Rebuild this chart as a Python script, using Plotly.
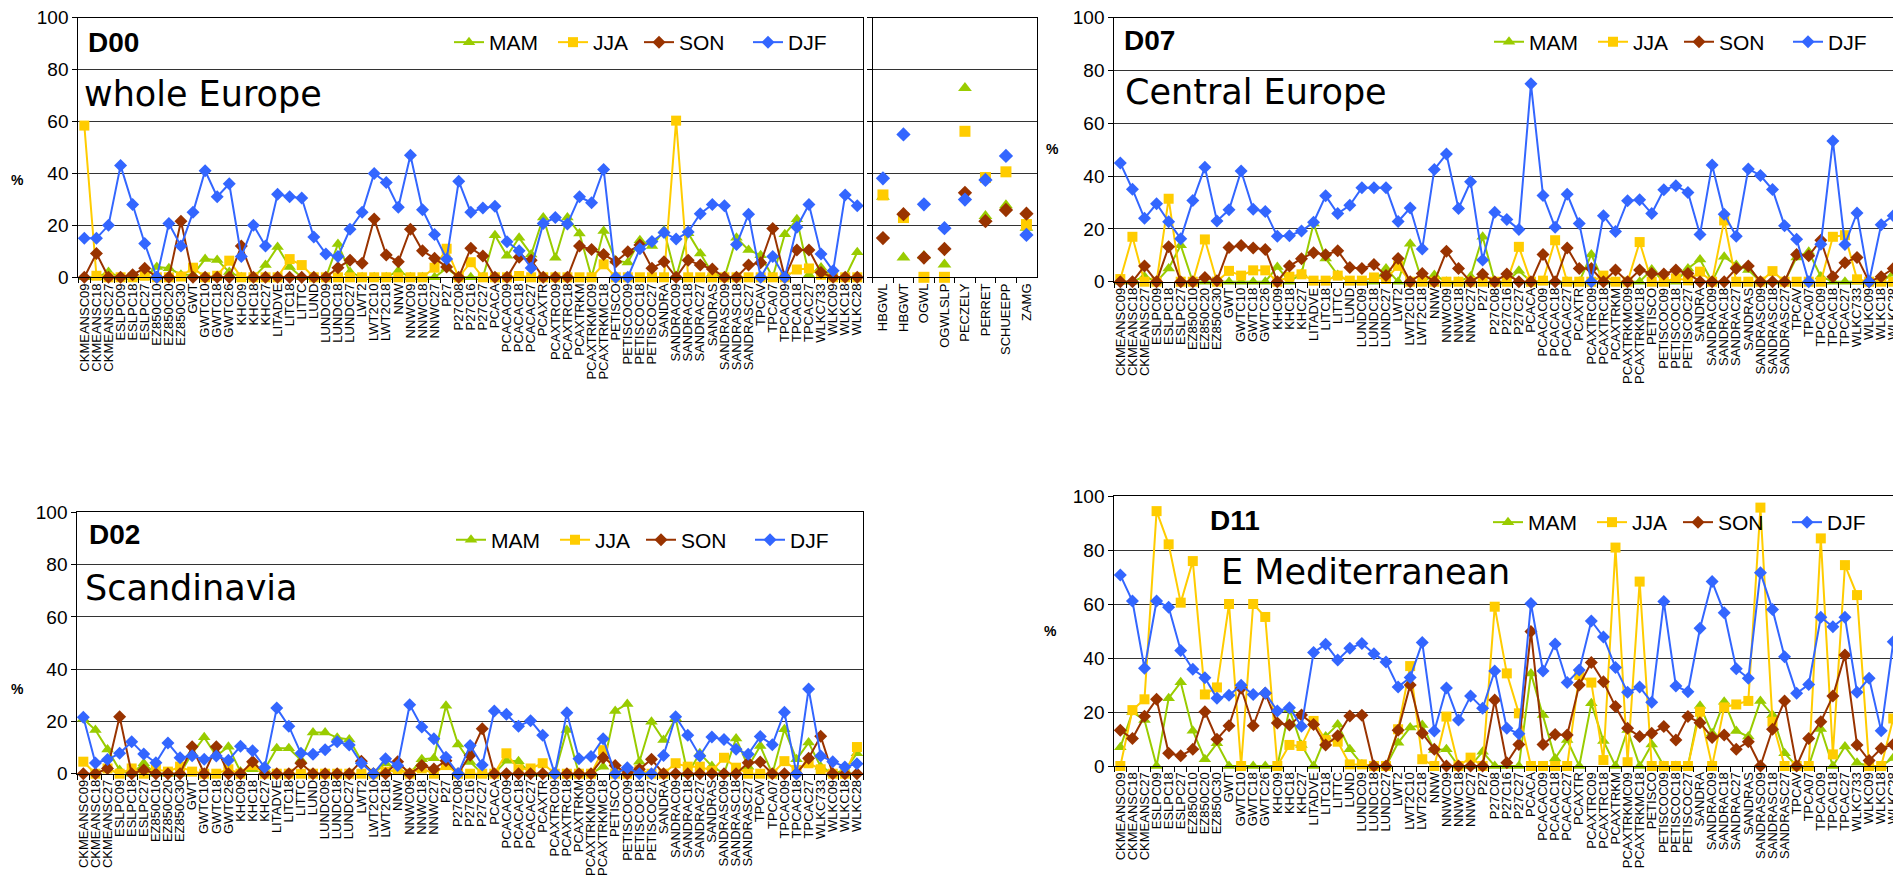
import plotly.graph_objects as go

W, H = 1901, 887
OFF = 8  # default page margin of the html body

categories = ["CKMEANSC09", "CKMEANSC18", "CKMEANSC27", "ESLPC09", "ESLPC18", "ESLPC27",
              "EZ850C10", "EZ850C20", "EZ850C30", "GWT", "GWTC10", "GWTC18", "GWTC26",
              "KHC09", "KHC18", "KHC27", "LITADVE", "LITC18", "LITTC", "LUND", "LUNDC09",
              "LUNDC18", "LUNDC27", "LWT2", "LWT2C10", "LWT2C18", "NNW", "NNWC09", "NNWC18",
              "NNWC27", "P27", "P27C08", "P27C16", "P27C27", "PCACA", "PCACAC09", "PCACAC18",
              "PCACAC27", "PCAXTR", "PCAXTRC09", "PCAXTRC18", "PCAXTRKM", "PCAXTRKMC09",
              "PCAXTRKMC18", "PETISCO", "PETISCOC09", "PETISCOC18", "PETISCOC27", "SANDRA",
              "SANDRAC09", "SANDRAC18", "SANDRAC27", "SANDRAS", "SANDRASC09", "SANDRASC18",
              "SANDRASC27", "TPCAV", "TPCA07", "TPCAC09", "TPCAC18", "TPCAC27", "WLKC733",
              "WLKC09", "WLKC18", "WLKC28"]

extra_categories = ["HBGWL", "HBGWT", "OGWL", "OGWLSLP", "PECZELY", "PERRET", "SCHUEEPP", "ZAMG"]

seasons = ["MAM", "JJA", "SON", "DJF"]

# ---------------- D00 whole Europe ----------------
d00_mam = [0, 0, 2, 0, 0, 0, 4, 3.5, 1, 1, 7, 6.7, 2, 0, 0, 4.7, 11.7, 4, 0, 0,
           0, 12.8, 2, 0, 0, 0, 2.5, 0, 0, 0, 3.5, 0, 0, 0, 16.2, 8.3, 15.2, 8.8, 23, 7.5,
           23, 16.9, 0, 17.8, 6.4, 5.7, 14.3, 12, 18, 0, 17, 9.2, 1.5, 0, 15.2, 10.5, 8.5, 0,
           16.6, 22.3, 1, 3.8, 0, 0, 9.6]
d00_jja = [58.4, 0.6, 0, 0, 0, 0.6, 0, 0, 0.3, 3.7, 0, 0.6, 6.4, 0, 0, 0, 0, 7, 4.7, 0,
           0, 0, 0, 0, 0, 0, 0, 0, 0, 3.7, 11, 0, 5.8, 0, 0, 0, 0.5, 0, 0, 0,
           0, 0, 0, 5, 0, 0, 0, 0, 0, 60.3, 0, 0, 0, 0, 0, 0, 0, 0, 0, 3, 3.4, 1, 0, 0, 0]
d00_son = [0, 9.2, 0, 0, 1, 3.5, 0, 0, 21.6, 0, 0, 0, 0, 12, 0, 0, 0, 0, 0, 0,
           0, 3.7, 6.6, 5.4, 22.4, 8.6, 6, 18.5, 10.2, 7.3, 4, 0, 11.2, 8.2, 0, 0, 7.7, 6.6, 0, 0,
           0, 12, 10.7, 8.8, 6, 9.8, 12.4, 3.5, 6, 0, 6.6, 4.7, 3.2, 0, 0, 4.7, 5.6, 18.8, 0, 10.5,
           10.5, 1.8, 0, 0, 0]
d00_djf = [15, 15, 20, 43, 28, 13, 0, 20.7, 12, 25, 41, 31, 36, 8, 20, 12, 32, 31, 30.5, 15.5,
           9, 8, 18.5, 25, 40, 36.5, 27, 47, 26, 16.5, 7, 37, 25, 26.7, 27.3, 13.7, 10.2, 3.6, 20.7, 23,
           20.5, 31, 28.7, 41.5, 0, 0, 11, 13.8, 17.2, 14.7, 17.4, 24.5, 28, 27.5, 12.6, 24.3, 0, 8, 0, 19.3,
           28, 9, 2.5, 31.7, 27.5]

# D00 additional classifications (markers only)
ext_mam = [31, 7.6, 8.2, 4.9, 72.9, 23.6, 27.7, 19.1]
ext_jja = [31.7, 23, 0, 0, 56.2, 38.4, 40.6, 20.3]
ext_son = [15.1, 24.3, 7.6, 10.9, 32.5, 21.6, 25.9, 24.5]
ext_djf = [38.1, 55, 28.1, 18.9, 29.9, 37.5, 46.7, 16.3]

# ---------------- D07 Central Europe ----------------
d07_mam = [0, 0, 2, 0, 5, 13.8, 0, 0, 0, 0, 0, 0, 0, 5.6, 0, 3, 22, 8.8, 2.5, 0,
           0, 0, 5, 0, 14.4, 0, 2.5, 0, 0, 2, 17, 0, 0, 4.1, 0, 0, 0, 0, 0, 10.3,
           0, 0, 0, 0, 4.6, 0, 0, 5, 8.4, 0, 9.4, 6.3, 4.4, 0, 0, 0, 9.2, 11.3, 2, 0,
           0, 0, 0, 0, 3]
d07_jja = [1, 17, 0, 0, 31.4, 0, 0, 16, 0, 4.1, 2.3, 4.3, 4.3, 0, 1.9, 2.8, 0.4, 0.4, 2.3, 0.4,
           0.4, 1.6, 1, 6, 0, 0, 0, 0, 0, 0, 0, 0, 0, 13.2, 0, 0.4, 15.7, 0, 0, 0,
           2.3, 0, 0, 15, 0, 0, 1.3, 0.5, 3.8, 0, 23.2, 0, 0, 0, 4, 0, 0, 0, 0, 17,
           17.6, 0.9, 0, 0, 0]
d07_son = [0, 0, 5.9, 0, 13.2, 0, 0, 1.6, 0.4, 12.9, 13.7, 12.8, 12.2, 0, 5.9, 8.7, 11, 10.2, 11.7, 5.4,
           5, 6.5, 2.3, 8.8, 0, 3.1, 0, 11.5, 5, 0, 2.8, 0, 2.9, 0, 0, 10.3, 0, 12.8, 5, 5,
           0, 4.4, 0, 4.4, 3.1, 2.9, 4.4, 3.1, 0, 0, 0, 5, 5.9, 0, 0, 0, 10.3, 9.8, 15.7, 1.9,
           7.2, 9.2, 0, 1.9, 5]
d07_djf = [44.9, 35, 24, 29.5, 22.7, 16.3, 30.7, 43.3, 23, 27.2, 41.9, 27.4, 26.6, 17.2, 17.4, 19.2, 22.5, 32.5, 25.8, 28.9,
           35.6, 35.6, 35.6, 22.8, 27.9, 12.4, 42.5, 48.3, 27.7, 37.8, 8.2, 26.3, 23.5, 19.8, 74.9, 32.6, 20.6, 33.1, 22, 0,
           25, 19, 30.6, 31, 25.8, 34.8, 36.3, 33.8, 17.9, 44.2, 25.5, 17.2, 42.7, 40.2, 34.9, 21.2, 16.1, 0, 14.2, 53.3,
           14.1, 26, 0, 21.6, 25]

# ---------------- D02 Scandinavia ----------------
d02_mam = [21, 16.7, 9.3, 1.4, 0, 4, 0, 0, 0, 7.8, 13.9, 6.8, 10.3, 0.8, 1.7, 1.7, 9.7, 9.7, 5.2, 15.8,
           15.8, 13.8, 13.1, 5, 0, 4, 1.7, 0, 5.5, 5.9, 26, 11.2, 4.5, 0, 0, 5, 4.8, 0, 0, 0,
           16.7, 0, 0, 2.7, 24, 26.7, 4.6, 19.9, 12.9, 21.2, 0, 7.8, 2.9, 0, 13.5, 2.7, 10.6, 0, 17, 5.5,
           11.9, 2.7, 0, 1.4, 7.8]
d02_jja = [4.6, 0, 2, 0, 2, 0, 1.7, 0.8, 2.7, 0.8, 0, 0, 1.7, 0, 3.3, 0, 0, 0, 0, 0,
           0, 0, 0, 0, 0, 0.8, 1.4, 0, 2, 0, 3.3, 0, 0, 0, 0, 7.8, 1.7, 2, 4, 0,
           0, 0, 0, 9, 0, 0, 1.4, 0, 0, 4, 2.7, 2.7, 1.1, 6.1, 2.3, 0, 0, 0, 4.8, 1.4,
           4, 1.7, 0, 0, 10.2]
d02_son = [0, 0, 2, 21.8, 0, 1.4, 0, 0, 0, 10.3, 0, 10.3, 0, 0, 4.6, 0, 0, 0, 4, 0,
           0, 0, 0, 4.8, 0, 0, 4.6, 0, 3.1, 1.8, 5, 0, 7.1, 17.2, 0, 0, 0, 0, 0, 0,
           0, 0, 0, 6.1, 3.1, 0, 1.7, 5.5, 0, 0, 0, 0, 0, 0, 0, 4.2, 4.5, 0, 0, 0,
           5.9, 14.3, 0, 0, 0]
d02_djf = [21.6, 4.1, 5.4, 7.8, 12.2, 7.5, 4.2, 11.7, 6.1, 6.9, 5.5, 6.8, 5.1, 10.5, 8.8, 2.4, 25.1, 18.2, 7.8, 7.4,
           9.2, 12.2, 11, 4, 0, 5.7, 3.1, 26.4, 17.9, 13.4, 6.3, 0, 10.8, 3.3, 24, 22.7, 18.2, 20.3, 14.7, 0,
           23.3, 5.7, 6.6, 13.4, 0, 2.3, 0, 0, 7, 21.8, 14.7, 6.8, 14, 13.1, 9.4, 7.4, 14.2, 11.1, 23.5, 0,
           32.4, 6.8, 4.6, 2.6, 3.8]

# ---------------- D11 E Mediterranean ----------------
d11_mam = [6.9, 20, 17, 0, 25.1, 31, 13.1, 2.5, 8.4, 0, 0, 0, 0, 0, 21, 7.8, 0, 10.9, 15.4, 6.2,
           0.6, 0, 0, 8.6, 14.3, 15.2, 5.9, 6.2, 0, 0, 5.3, 0, 0, 0, 34.3, 18.9, 2.8, 9.6, 0, 23.2,
           9.3, 0, 13.3, 0, 8, 0, 0, 0, 22.3, 12.1, 23.8, 13, 10.9, 24.1, 18.9, 4.7, 0, 0, 13.7, 0,
           7.2, 1.2, 0, 0, 3]
d11_jja = [0, 20.7, 24.7, 94.4, 82.1, 60.5, 75.9, 26.5, 29.1, 60, 0, 60, 55.2, 0, 7.8, 7.4, 16.7, 9.6, 9, 0.6,
           0.6, 0, 0, 13.6, 37, 2.5, 0, 18.3, 0, 3.1, 0, 59, 34.3, 19.5, 0, 0, 0, 0, 33.7, 30.9,
           2.2, 80.9, 1.4, 68.3, 0, 0, 0, 0, 20.1, 0, 21.7, 22.8, 24.1, 95.7, 16.4, 0, 0, 0, 84.3, 4.3,
           74.4, 63.3, 0, 0, 17.6]
d11_son = [13.2, 10.2, 18.4, 24.7, 4.7, 3.8, 6.2, 20.1, 9.9, 14.9, 28.8, 14.9, 26.9, 15.9, 15.2, 18.9, 15.4, 7.8, 11.2, 18.5,
           18.8, 0, 0, 13.2, 30, 12.1, 6.2, 0, 0, 0, 0, 24.4, 1.2, 8, 49.8, 8, 11.7, 11.5, 30, 38.3,
           31.2, 22, 14, 10.9, 12.1, 14.6, 9.6, 18.3, 16, 10.6, 11.5, 6.2, 9, 0, 13.6, 24.1, 0, 10.2, 16.4, 25.9,
           41.1, 7.8, 2, 6.5, 8]
d11_djf = [70.7, 61.1, 36.2, 61.1, 58.8, 42.8, 35.8, 32.7, 25.1, 26.2, 29.9, 26.5, 27, 20.4, 21.6, 14.7, 42, 45.1, 39.3, 43.6,
           45.4, 41.6, 38.5, 29.3, 32.8, 45.7, 13, 28.9, 17, 25.9, 21.4, 35.2, 14, 11.9, 60.2, 35.2, 45.2, 30.9, 35.6, 53.7,
           47.8, 36.5, 27.3, 29.3, 23.6, 60.9, 29.6, 27.5, 51, 68.3, 56.8, 36, 32.5, 71.6, 58, 40.5, 26.9, 30.2, 55.1, 51.6,
           55.1, 27.3, 32.5, 13.1, 46]

y_ticks = [0, 20, 40, 60, 80, 100]

# ---------------- styling ----------------
colors = {"MAM": "#99CC00", "JJA": "#FFCC00", "SON": "#993300", "DJF": "#3366FF"}
symbols = {"MAM": "triangle-up", "JJA": "square", "SON": "diamond", "DJF": "diamond"}
msize = {"MAM": 11, "JJA": 10, "SON": 10, "DJF": 10}
legwidth = {"MAM": 59, "JJA": 41, "SON": 64, "DJF": None}
FONT = "Liberation Sans, Arial, sans-serif"
BIG = "DejaVu Sans, Verdana, sans-serif"


def fx(px):  # page pixel -> paper x
    return (px - OFF) / W


def fy(py):  # page pixel -> paper y
    return 1 - (py - OFF) / H


fig = go.Figure()

panels = [
    # name, axis suffix, series, legend id, x-domain (page px), y-domain (page px)
    ("D00", "", [d00_mam, d00_jja, d00_son, d00_djf], "legend", (78.3, 863.3), (17.5, 277.3)),
    ("D07", "3", [d07_mam, d07_jja, d07_son, d07_djf], "legend2", (1114.3, 1899.3), (17.5, 281.7)),
    ("D02", "4", [d02_mam, d02_jja, d02_son, d02_djf], "legend3", (77.3, 863.0), (512.3, 773.7)),
    ("D11", "5", [d11_mam, d11_jja, d11_son, d11_djf], "legend4", (1114.3, 1899.3), (496.0, 766.0)),
]

axis_common = dict(showline=True, mirror=True, linecolor="black", linewidth=1,
                   zeroline=False, automargin=False, ticklabeloverflow="allow")

for name, suf, series, leg, xd, yd in panels:
    for s, vals in zip(seasons, series):
        tr = dict(
            x=categories, y=vals, name=s, mode="lines+markers",
            line=dict(color=colors[s], width=2),
            marker=dict(symbol=symbols[s], size=msize[s], color=colors[s]),
            xaxis="x" + suf, yaxis="y" + suf, legend=leg, cliponaxis=False,
        )
        if legwidth[s]:
            tr["legendwidth"] = legwidth[s]
        fig.add_trace(go.Scatter(**tr))
    fig.update_layout(**{
        "xaxis" + suf: dict(domain=[fx(xd[0]), fx(xd[1])], anchor="y" + suf, type="category",
                            categoryorder="array", categoryarray=categories,
                            tickmode="array", tickvals=categories, ticktext=categories,
                            range=[-0.5, len(categories) - 0.5], tickangle=-90,
                            tickson="boundaries", ticks="outside", ticklen=5, tickcolor="black",
                            tickfont=dict(family=FONT, size=13, color="black"),
                            showgrid=False, **axis_common),
        "yaxis" + suf: dict(domain=[fy(yd[1]), fy(yd[0])], anchor="x" + suf, range=[0, 100],
                            tickvals=y_ticks, ticks="outside", ticklen=5, tickcolor="black",
                            tickfont=dict(family=FONT, size=19, color="black"),
                            showgrid=True, gridcolor="#333333", gridwidth=1, **axis_common),
    })

# D00 additional panel (markers only)
for s, vals in zip(seasons, [ext_mam, ext_jja, ext_son, ext_djf]):
    fig.add_trace(go.Scatter(
        x=extra_categories, y=vals, name=s, mode="markers", showlegend=False,
        marker=dict(symbol=symbols[s], size=msize[s] + 1, color=colors[s]),
        xaxis="x2", yaxis="y2", cliponaxis=False,
    ))
fig.update_layout(
    xaxis2=dict(domain=[fx(872.7), fx(1036.7)], anchor="y2", type="category",
                categoryorder="array", categoryarray=extra_categories,
                tickmode="array", tickvals=extra_categories, ticktext=extra_categories,
                range=[-0.5, len(extra_categories) - 0.5], tickangle=-90,
                tickson="boundaries", ticks="outside", ticklen=5, tickcolor="black",
                tickfont=dict(family=FONT, size=13, color="black"), showgrid=False, **axis_common),
    yaxis2=dict(domain=[fy(277.3), fy(17.5)], anchor="x2", range=[0, 100], tickvals=y_ticks,
                showticklabels=False, ticks="outside", ticklen=5, tickcolor="black",
                showgrid=True, gridcolor="#333333", gridwidth=1, **axis_common),
)

# legends (positions in page px: left of the first legend line, text centre)
leg_common = dict(orientation="h", xanchor="left", yanchor="middle", bgcolor="rgba(0,0,0,0)",
                  borderwidth=0, font=dict(family=FONT, size=21, color="black"),
                  itemclick=False, itemdoubleclick=False)
fig.update_layout(
    legend=dict(x=fx(458 - 9), y=fy(42.5), **leg_common),
    legend2=dict(x=fx(1498 - 9), y=fy(42), **leg_common),
    legend3=dict(x=fx(460 - 9), y=fy(540), **leg_common),
    legend4=dict(x=fx(1497 - 9), y=fy(522.5), **leg_common),
)

# titles and labels (page px)
texts = [
    ("<b>D00</b>", 86, 42.7, FONT, 28),
    ("whole Europe", 82, 94, BIG, 35),
    ("<b>D07</b>", 1122, 40.7, FONT, 28),
    ("Central Europe", 1123, 92, BIG, 35),
    ("<b>D02</b>", 86.5, 534.7, FONT, 28),
    ("Scandinavia", 83, 587.7, BIG, 35),
    ("<b>D11</b>", 1208, 520.5, FONT, 28),
    ("E Mediterranean", 1219, 572, BIG, 35),
]
annotations = []
for t, x, y, fam, sz in texts:
    annotations.append(dict(text=t, x=fx(x), y=fy(y), xref="paper", yref="paper",
                            xanchor="left", yanchor="middle", showarrow=False,
                            font=dict(family=fam, size=sz, color="black")))
for x, y in [(17, 179.5), (1052, 149), (17, 689), (1050, 631)]:
    annotations.append(dict(text="<b>%</b>", x=fx(x), y=fy(y), xref="paper", yref="paper",
                            xanchor="center", yanchor="middle", showarrow=False,
                            font=dict(family=FONT, size=14, color="black")))

fig.update_layout(
    width=W, height=H, margin=dict(l=0, r=0, t=0, b=0),
    paper_bgcolor="white", plot_bgcolor="white",
    annotations=annotations, showlegend=True,
)

fig.write_html("out.html")
